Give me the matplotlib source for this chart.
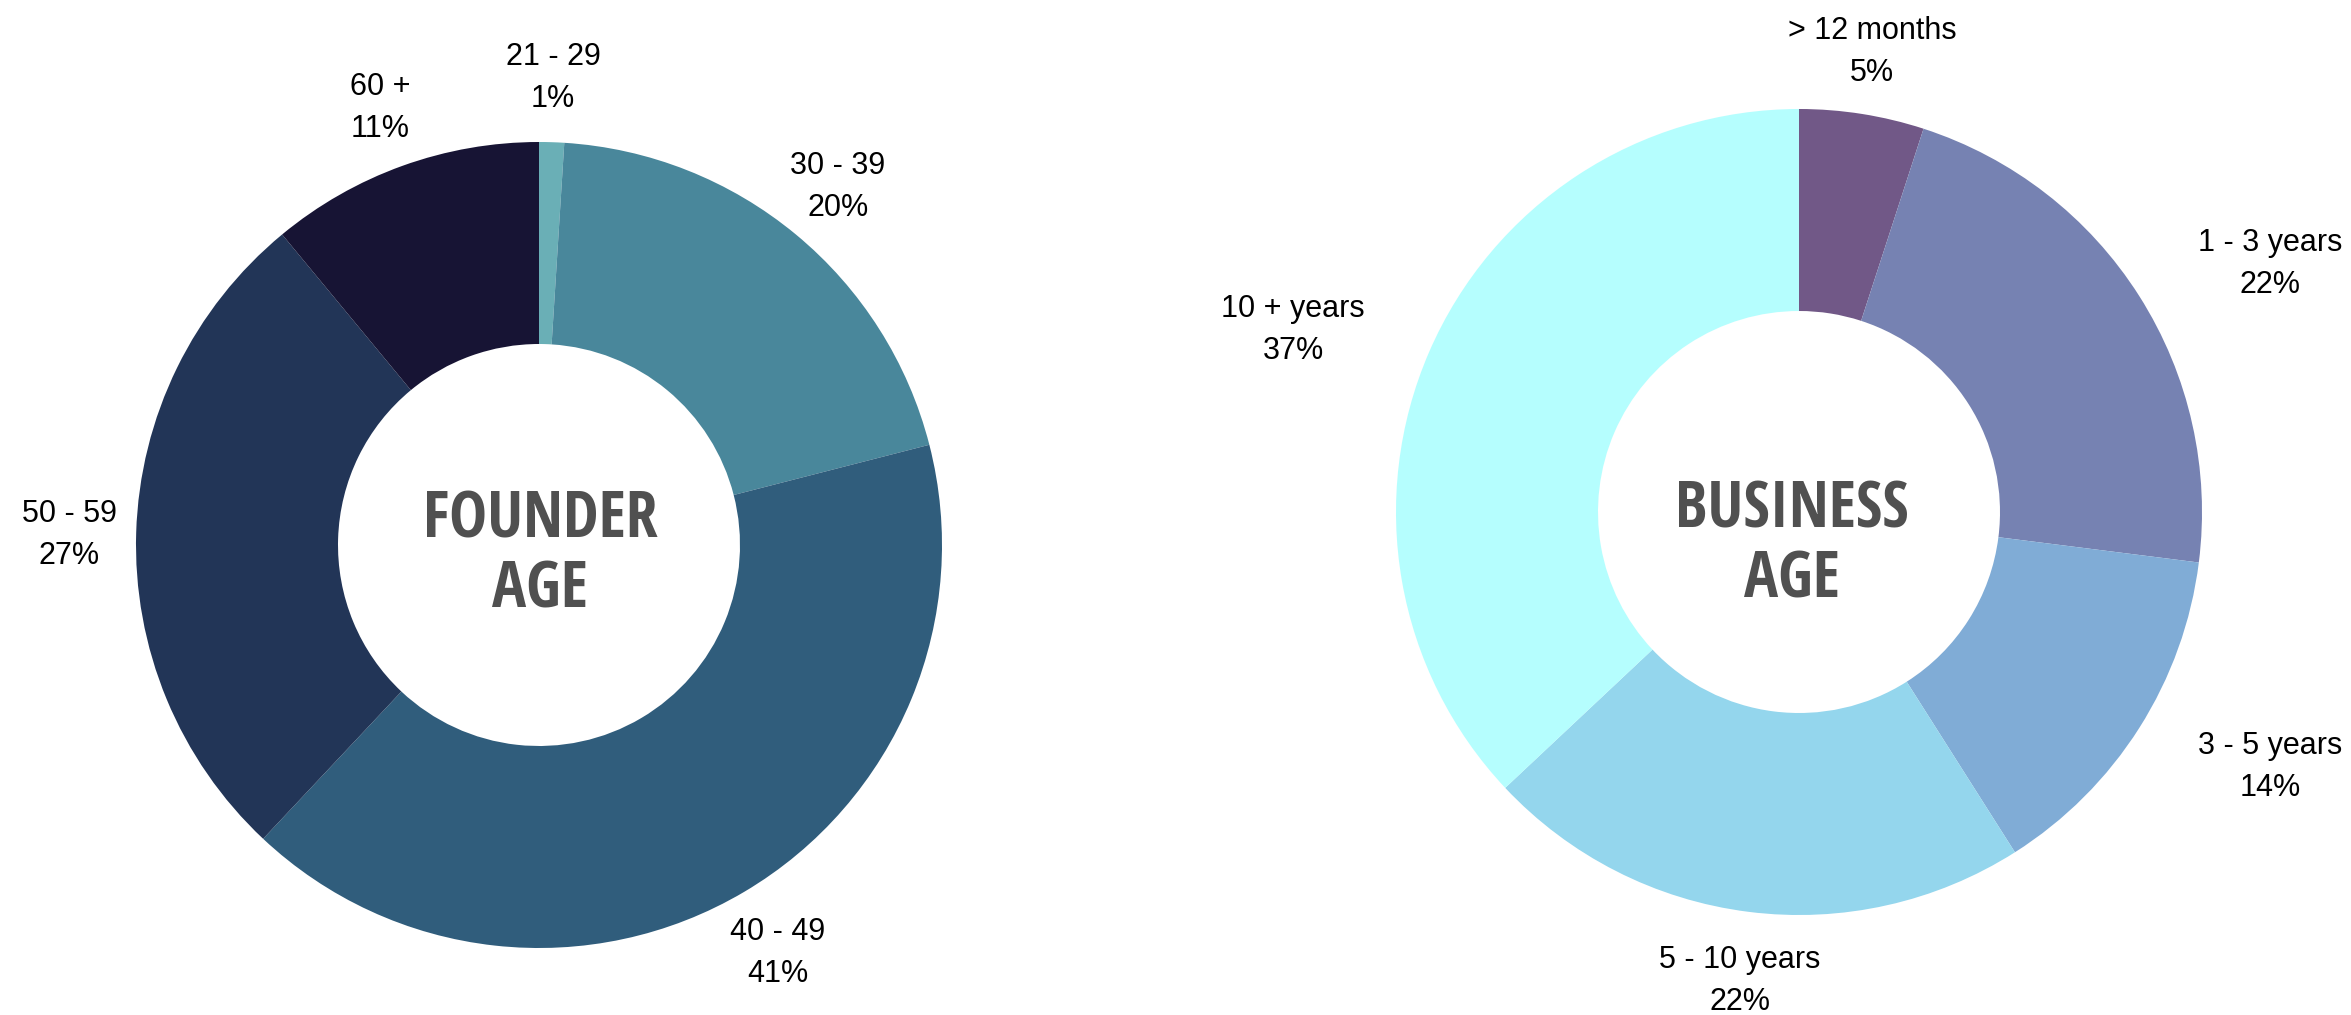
import matplotlib
matplotlib.use("Agg")
import matplotlib.pyplot as plt
from matplotlib import font_manager

# ---- data ----
founder_labels = ["21 - 29", "30 - 39", "40 - 49", "50 - 59", "60 +"]
founder_values = [1, 20, 41, 27, 11]
founder_colors = ["#6aafb6", "#49879b", "#305d7c", "#223557", "#171434"]

business_labels = ["> 12 months", "1 - 3 years", "3 - 5 years", "5 - 10 years", "10 + years"]
business_values = [5, 22, 14, 22, 37]
business_colors = ["#715887", "#7682b2", "#80acd6", "#94d6ed", "#b5fefe"]

# label anchor (pixel coords, origin top-left) and whether narrow font was used
founder_label_pos = [(553, 78), (838, 187), (778, 953), (69, 535), (380, 108)]
founder_narrow = [True, True, False, False, True]
business_label_pos = [(1872, 52), (2270, 264), (2270, 767), (1740, 981), (1293, 330)]
business_narrow = [True, True, False, False, False]

W, H = 2351, 1015

names = {f.name for f in font_manager.fontManager.ttflist}
narrow_family = "Liberation Sans Narrow" if "Liberation Sans Narrow" in names else "Liberation Sans"
title_family = "DejaVu Sans"
for cand in ["Open Sans Condensed", "Roboto Condensed", "DejaVu Sans Condensed"]:
    if cand in names:
        title_family = cand
        break

fig = plt.figure(figsize=(W / 100, H / 100), dpi=100)
ax = fig.add_axes([0, 0, 1, 1])
ax.set_xlim(0, W)
ax.set_ylim(H, 0)
ax.set_aspect("equal")
ax.axis("off")


def donut(values, colors, labels, label_pos, narrow, center, title, title_center):
    # y axis is inverted, so -90 is the top and counterclock in data is clockwise on screen
    ax.pie(values, colors=colors, startangle=-90, counterclock=True,
           center=center, radius=403,
           wedgeprops=dict(width=202, linewidth=0))
    for lab, v, (x, y), nw in zip(labels, values, label_pos, narrow):
        ax.text(x, y, f"{lab}\n{v}%", ha="center", va="center",
                fontsize=22, color="black", linespacing=1.5,
                family=narrow_family if nw else "Liberation Sans")
    ax.text(title_center[0], title_center[1], title, ha="center", va="center",
            fontsize=46, fontweight="bold", stretch="condensed",
            family=title_family, color="#505050", linespacing=1.1)


donut(founder_values, founder_colors, founder_labels, founder_label_pos,
      founder_narrow, (539, 545), "FOUNDER\nAGE", (540, 556))
donut(business_values, business_colors, business_labels, business_label_pos,
      business_narrow, (1799, 512), "BUSINESS\nAGE", (1792, 546))

ax.set_xlim(0, W)
ax.set_ylim(H, 0)

fig.savefig("out.png", dpi=100, facecolor="white")
